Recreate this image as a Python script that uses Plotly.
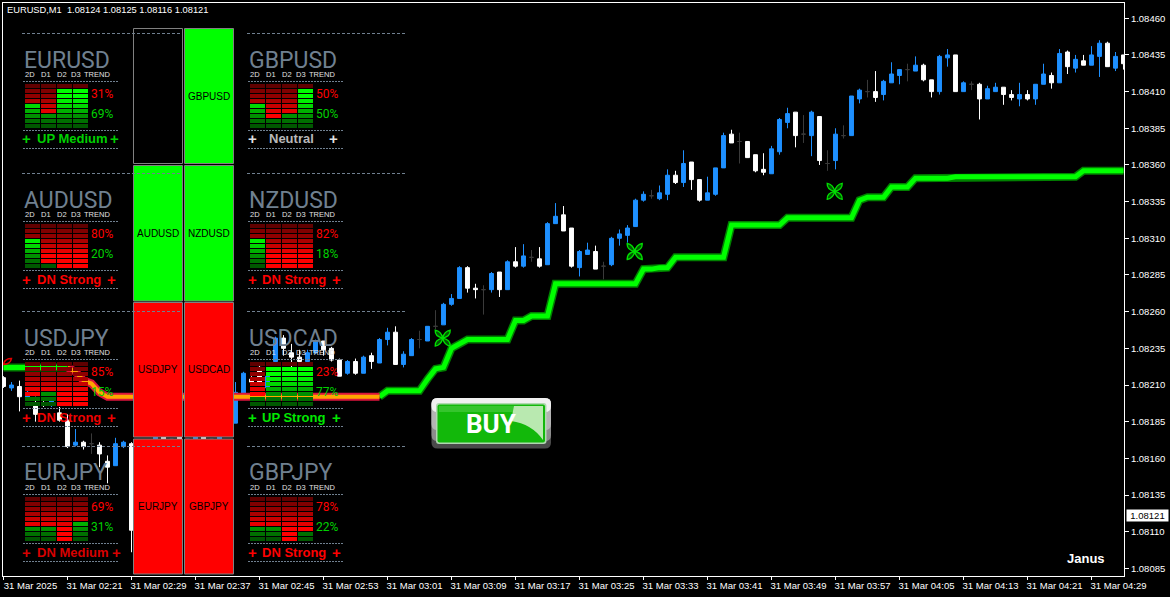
import plotly.graph_objects as go

# ---------- chart values (prices in points, 1e-5) ----------
opens = [108215,108208,108209,108201,108196,108198,108196,108191,108186,108169,108171,108170,108169,108158,108155,108168,108170,108111,108135,108160,108180,108170,108178,108170,108172,108178,108171,108172,108181,108184,108204,108214,108222,108208,108226,108242,108232,108229,108226,108232,108240,108235,108227,108218,108226,108218,108230,108225,108241,108246,108224,108230,108241,108240,108250,108251,108265,108269,108290,108276,108275,108275,108287,108275,108294,108291,108297,108296,108292,108320,108326,108317,108290,108299,108301,108291,108292,108310,108312,108318,108336,108339,108337,108340,108353,108348,108362,108350,108336,108340,108358,108381,108376,108376,108367,108357,108354,108369,108389,108396,108381,108380,108393,108361,108363,108380,108380,108405,108410,108410,108408,108416,108421,108425,108424,108428,108418,108410,108433,108435,108410,108415,108415,108405,108410,108413,108408,108405,108408,108405,108415,108421,108416,108437,108426,108431,108428,108434,108443,108426,108435]
highs = [108216,108212,108213,108206,108202,108199,108201,108195,108190,108180,108172,108177,108171,108162,108174,108172,108171,108136,108161,108181,108181,108173,108179,108173,108180,108179,108173,108182,108184,108212,108219,108216,108224,108216,108243,108244,108238,108234,108234,108241,108240,108236,108228,108227,108228,108230,108232,108242,108249,108250,108233,108242,108247,108250,108261,108266,108272,108291,108291,108279,108278,108287,108287,108295,108304,108306,108302,108304,108321,108334,108332,108317,108302,108307,108305,108294,108311,108316,108319,108337,108342,108343,108346,108357,108356,108370,108362,108350,108352,108358,108382,108384,108382,108376,108367,108368,108373,108392,108399,108396,108394,108397,108393,108370,108385,108387,108407,108412,108418,108424,108418,108430,108425,108429,108434,108429,108418,108435,108439,108435,108417,108417,108416,108414,108416,108413,108411,108416,108411,108415,108429,108423,108439,108438,108435,108435,108441,108445,108444,108437,108435]
lows = [108208,108206,108192,108200,108185,108195,108195,108185,108167,108168,108166,108163,108154,108143,108155,108167,108096,108110,108134,108159,108169,108169,108169,108169,108171,108170,108170,108171,108180,108184,108203,108211,108211,108207,108224,108230,108222,108225,108226,108231,108230,108226,108216,108217,108217,108218,108221,108225,108237,108224,108222,108230,108235,108240,108248,108251,108264,108269,108273,108269,108258,108273,108270,108275,108290,108290,108294,108290,108292,108320,108315,108290,108284,108299,108289,108282,108291,108305,108307,108318,108335,108337,108336,108336,108347,108345,108343,108335,108336,108339,108358,108375,108361,108365,108355,108353,108354,108367,108385,108372,108375,108366,108360,108356,108357,108378,108380,108402,108406,108403,108404,108416,108415,108417,108424,108417,108406,108408,108427,108410,108410,108411,108391,108405,108410,108401,108404,108400,108404,108401,108415,108412,108416,108422,108423,108428,108428,108420,108427,108424,108425]
closes = [108209,108210,108202,108205,108190,108196,108200,108186,108168,108171,108168,108170,108163,108154,108170,108171,108111,108135,108160,108180,108170,108173,108170,108173,108179,108171,108173,108181,108183,108205,108218,108212,108212,108216,108242,108235,108229,108226,108232,108240,108234,108227,108216,108226,108218,108229,108226,108241,108246,108224,108231,108241,108241,108250,108250,108265,108269,108290,108276,108275,108275,108286,108275,108294,108291,108298,108297,108291,108320,108325,108315,108291,108301,108302,108289,108291,108310,108313,108317,108336,108340,108339,108341,108353,108348,108361,108350,108336,108341,108358,108380,108375,108376,108365,108356,108355,108371,108391,108395,108380,108381,108396,108363,108361,108381,108380,108407,108411,108410,108406,108417,108422,108425,108425,108428,108418,108410,108434,108435,108410,108416,108415,108405,108412,108413,108408,108406,108408,108405,108415,108422,108416,108436,108427,108432,108428,108435,108443,108427,108434,108429]

line_level = [108222]*9 + [108219,108213,108211,108205] + [108202]*35 + [108206]*5 + [108214,108221,108222,108235,108238] + [108241]*6 + [108254,108254] + [108257]*3 + [108279]*11 + [108289,108289,108290,108290] + [108297]*7 + [108319]*7 + [108324]*9 + [108336] + [108338]*3 + [108345]*3 + [108351]*5 + [108352]*16 + [108356]*6
line_dn_from = 8
line_dn_to = 47

buy_marks_i = [55, 79, 104]
buy_marks_p = [108242, 108301, 108342]
sell_mark_i = [0]
sell_mark_p = [108224]

y_ticks = [108460,108435,108410,108385,108360,108335,108310,108285,108260,108235,108210,108185,108160,108135,108110,108085]
x_tick_labels = ["31 Mar 2025","31 Mar 02:21","31 Mar 02:29","31 Mar 02:37","31 Mar 02:45","31 Mar 02:53","31 Mar 03:01","31 Mar 03:09","31 Mar 03:17","31 Mar 03:25","31 Mar 03:33","31 Mar 03:41","31 Mar 03:49","31 Mar 03:57","31 Mar 04:05","31 Mar 04:13","31 Mar 04:21","31 Mar 04:29"]
last_price = 1.08121
header_text = "EURUSD,M1\u00a0\u00a01.08124 1.08125 1.08116 1.08121"

pairs = ["EURUSD","GBPUSD","AUDUSD","NZDUSD","USDJPY","USDCAD","EURJPY","GBPJPY"]
red_counts = [[4,6,1,1],[4,7,6,1],[3,8,9,9],[3,9,9,9],[7,6,9,9],[7,1,1,1],[6,6,9,5],[6,6,9,7]]
pct_dn = [31,50,80,82,85,23,69,78]
pct_up = [69,50,20,18,15,77,31,22]
status_text = ["UP Medium","Neutral","DN Strong","DN Strong","DN Strong","UP Strong","DN Medium","DN Strong"]
status_color = ["#00d000","#b8b8b8","#ff0000","#ff0000","#f00000","#00e800","#d80000","#ff0000"]
button_color = ["#000000","#00ff00","#00ff00","#00ff00","#ff0000","#ff0000","#ff0000","#ff0000"]
red_shades = ["#600000","#800000","#900000","#ac0000","#c80000","#e60000","#ff0000","#ff0000","#ff0000"]
green_shades = ["#006000","#00ff00","#00ff00","#00f000","#00d800","#00b000","#009000","#007000","#005800"]
col_heads = ["2D","D1","D2","D3","TREND"]

# ---------- layout frame ----------
W, H = 1170, 597
L, R, T, B = 3, 1124, 3, 576
def px(x): return (x - L) / (R - L)
def py(y): return (B - y) / (B - T)

shapes, notes = [], []
def rect(x0, y0, x1, y1, fill, line=None, lw=0):
    shapes.append(dict(type="rect", xref="paper", yref="paper", x0=px(x0), x1=px(x1), y0=py(y0), y1=py(y1),
                       fillcolor=fill, line=dict(color=line or fill, width=lw), layer="above"))
def hline(x0, x1, y, color, dash):
    shapes.append(dict(type="line", xref="paper", yref="paper", x0=px(x0), x1=px(x1), y0=py(y), y1=py(y),
                       line=dict(color=color, width=1, dash=dash), layer="above"))
def text(x, y, s, size, color, family="Liberation Sans", anchor="left", bold=False):
    notes.append(dict(xref="paper", yref="paper", x=px(x), y=py(y), text=f"<b>{s}</b>" if bold else s,
                      showarrow=False, xanchor=anchor, yanchor="middle", borderpad=0, borderwidth=0,
                      font=dict(size=size, color=color, family=family)))

slate = "#708090"
col_off = [0, 225]
row_off = [0, 140, 278, 413]
plus_right = [110, 329, 107, 332, 107, 332, 112, 332]

for n, pair in enumerate(pairs):
    dx, dy = col_off[n % 2], row_off[n // 2]
    text(24 + dx, 60 + dy, pair, 23, slate, "Roboto")
    for k, h in enumerate(col_heads):
        text(25 + 16 * k + dx - (2 if k == 3 else 0) + (0 if k < 4 else -5), 74.5 + dy, h, 7.5, "#e0e0e0")
    hline(23 + dx, 119 + dx, 81.5 + dy, slate, "2px,1px")
    hline(23 + dx, 119 + dx, 130.5 + dy, slate, "2px,1px")
    hline(23 + dx, 119 + dx, 148.5 + dy, slate, "2px,1px")
    for c, rc in enumerate(red_counts[n]):
        for r in range(9):
            color = red_shades[r] if r < rc else green_shades[r]
            rect(25 + 16 * c + dx, 84 + 5 * r + dy, 40 + 16 * c + dx, 88 + 5 * r + dy, color)
    text(91 + dx, 94 + dy, f"{pct_dn[n]}%", 12, "#ff0000", "Roboto")
    text(91 + dx, 114 + dy, f"{pct_up[n]}%", 12, "#00d000", "Roboto")
    sc = status_color[n]
    plus_c = "#e0e0e0" if status_text[n] == "Neutral" else sc
    text(22 + dx + (1 if n % 2 else 0), 139 + dy, "+", 15, plus_c, bold=True)
    text((36.5 if status_text[n] != "Neutral" else 44) + dx, 139 + dy, status_text[n], 13, sc, bold=True)
    text(plus_right[n], 139 + dy, "+", 15, plus_c, bold=True)

# ---------- pair buttons ----------
btn_x = [(133.5, 182.5), (184.5, 233.5)]
btn_y = [(28.5, 163.5), (165.5, 301), (302.5, 437), (439, 574)]
for n, pair in enumerate(pairs):
    x0, x1 = btn_x[n % 2]
    y0, y1 = btn_y[n // 2]
    rect(x0, y0, x1, y1, button_color[n], "#808080", 1)
    text((x0 + x1) / 2, (y0 + y1) / 2, pair, 10, "#000000", anchor="center")

for y in (33.5, 173.5, 311.5, 446.5):
    hline(22, 181, y, slate, "3px,2px")
    hline(247, 406, y, slate, "3px,2px")

# ---------- BUY button ----------
def rrect(x0, y0, x1, y1, r, fill):
    p = (f"M{px(x0+r)},{py(y0)} L{px(x1-r)},{py(y0)} Q{px(x1)},{py(y0)} {px(x1)},{py(y0+r)} "
         f"L{px(x1)},{py(y1-r)} Q{px(x1)},{py(y1)} {px(x1-r)},{py(y1)} L{px(x0+r)},{py(y1)} "
         f"Q{px(x0)},{py(y1)} {px(x0)},{py(y1-r)} L{px(x0)},{py(y0+r)} Q{px(x0)},{py(y0)} {px(x0+r)},{py(y0)} Z")
    shapes.append(dict(type="path", xref="paper", yref="paper", path=p, fillcolor=fill, line=dict(width=0), layer="above"))
rrect(431.5, 398, 551, 448.5, 6, "#4a4a4a")
rrect(431.5, 398, 551, 441, 6, "#8c8c8c")
rrect(431.5, 398, 551, 430, 6, "#b4b4b4")
rrect(431.5, 398, 551, 412, 6, "#f0f0f0")
rrect(436, 403, 546.5, 444, 3, "#b0d8b0")
rrect(437.5, 404.5, 545, 442.5, 2, "#12b80a")
rect(439, 406, 543, 412, "#35c52d")
p = (f"M{px(514)},{py(406)} L{px(543)},{py(406)} L{px(543)},{py(440)} Q{px(532)},{py(424)} {px(511)},{py(421)} Z")
shapes.append(dict(type="path", xref="paper", yref="paper", path=p, fillcolor="#b9e9b0", line=dict(width=0), layer="above"))
text(491, 423.5, "BUY", 26, "#ffffff", "Roboto", "center", True)

# ---------- small marks anchored to the data ----------
petal = ("M0,0 Q1.5,7 7.5,8 Q8,1.5 0,0 Z M0,0 Q-1.5,7 -7.5,8 Q-8,1.5 0,0 Z "
         "M0,0 Q1.5,-7 7.5,-8 Q8,-1.5 0,0 Z M0,0 Q-1.5,-7 -7.5,-8 Q-8,-1.5 0,0 Z")
for i, p_ in zip(buy_marks_i, buy_marks_p):
    shapes.append(dict(type="path", xref="x", yref="y", xsizemode="pixel", ysizemode="pixel",
                       xanchor=i - 0.1, yanchor=p_ / 1e5, path=petal, fillcolor="#005800",
                       line=dict(color="#00e000", width=1.3), layer="above"))
for i, p_ in zip(sell_mark_i, sell_mark_p):
    shapes.append(dict(type="path", xref="x", yref="y", xsizemode="pixel", ysizemode="pixel",
                       xanchor=i, yanchor=p_ / 1e5, path="M0,0 Q1,6 8,6 Q7,0 0,0 Z", fillcolor="rgba(0,0,0,0)",
                       line=dict(color="#e00000", width=1.5), layer="above"))

# ---------- other text ----------
text(7, 10.5, header_text, 9.3, "#ffffff")
text(1067, 558, "Janus", 13, "#ffffff", bold=True)
notes.append(dict(xref="paper", yref="y", x=px(1126), y=last_price, text=f"{last_price:.5f}",
                  showarrow=False, xanchor="left", yanchor="middle", bgcolor="#ffffff", width=41, height=11,
                  borderpad=0, font=dict(size=9.5, color="#000000", family="Liberation Sans")))

# ---------- traces ----------
idx = list(range(len(opens)))
P = lambda a: [v / 1e5 for v in a]
is_doji = [o == c for o, c in zip(opens, closes)]
pick = lambda a, want: [a[i] / 1e5 if is_doji[i] == want else None for i in idx]
common = dict(x=idx, whiskerwidth=0, hoverinfo="skip", showlegend=False)
fig = go.Figure()
fig.add_trace(go.Candlestick(open=pick(opens, False), high=pick(highs, False), low=pick(lows, False), close=pick(closes, False),
    increasing=dict(line=dict(color="#1e90ff", width=1), fillcolor="#1e90ff"),
    decreasing=dict(line=dict(color="#ffffff", width=1), fillcolor="#ffffff"), **common))
fig.add_trace(go.Candlestick(open=pick(opens, True), high=pick(highs, True), low=pick(lows, True), close=pick(closes, True),
    increasing=dict(line=dict(color="#3a3a3a", width=1), fillcolor="#3a3a3a"),
    decreasing=dict(line=dict(color="#3a3a3a", width=1), fillcolor="#3a3a3a"), **common))

prices = P(line_level)
up_a = [prices[i] if i <= line_dn_from else None for i in idx]
up_b = [prices[i] if i >= line_dn_to else None for i in idx]
dn = [prices[i] if line_dn_from <= i <= line_dn_to else None for i in idx]
for ys, outer, inner, inner_w in ((up_a, "#008000", "#00ff00", 5), (up_b, "#008000", "#00ff00", 5), (dn, "#dc143c", "#ffa500", 4)):
    fig.add_trace(go.Scatter(x=idx, y=ys, mode="lines", line=dict(color=outer, width=8), hoverinfo="skip", showlegend=False))
    fig.add_trace(go.Scatter(x=idx, y=ys, mode="lines", line=dict(color=inner, width=inner_w), hoverinfo="skip", showlegend=False))

fig.update_layout(
    width=W, height=H, margin=dict(l=L, r=W - R, t=T, b=H - B, pad=0), autosize=False, boxgap=0.3, boxmode="overlay",
    paper_bgcolor="#000000", plot_bgcolor="#000000", showlegend=False,
    font=dict(family="Liberation Sans", color="#ffffff", size=10),
    shapes=shapes, annotations=notes,
    xaxis=dict(range=[(L - 3.5) / 8, (R - 3.5) / 8], rangeslider=dict(visible=False), showgrid=False, zeroline=False,
               tickvals=list(range(0, 8 * len(x_tick_labels), 8)), ticktext=x_tick_labels, ticks="outside", ticklen=3,
               tickcolor="#ffffff", tickwidth=1, showline=True, linecolor="#ffffff", linewidth=1, mirror=True,
               ticklabelshift=27, ticklabelstandoff=-2, tickangle=0, tickfont=dict(size=9.5, color="#ffffff", family="Liberation Sans")),
    yaxis=dict(range=[1.080798, 1.084704], side="right", showgrid=False, zeroline=False,
               tickvals=P(y_ticks), ticktext=[f"{v/1e5:.5f}" for v in y_ticks], ticks="outside", ticklen=4,
               tickcolor="#ffffff", tickwidth=1, showline=True, linecolor="#ffffff", linewidth=1, mirror=True,
               tickfont=dict(size=9.5, color="#ffffff", family="Liberation Sans")),
)
fig.write_html("out.html", config=dict(displayModeBar=False),
               post_script="document.body.style.margin='0';document.body.style.background='#000';")
